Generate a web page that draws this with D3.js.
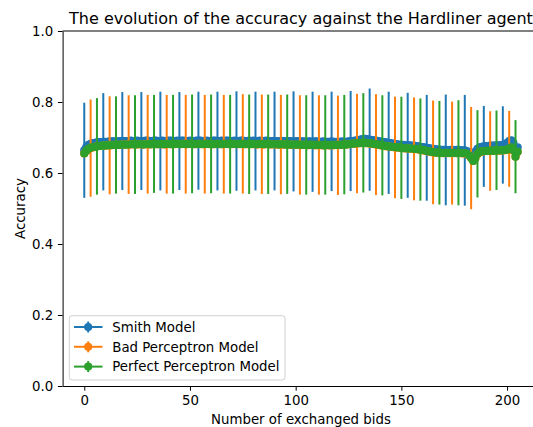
<!DOCTYPE html>
<html>
<head>
<meta charset="utf-8">
<script src="https://cdn.jsdelivr.net/npm/d3@7"></script>
<style>
  body { margin: 0; background: #fff; }
  svg { display: block; font-family: "DejaVu Sans", sans-serif; }
</style>
</head>
<body>
<svg></svg>
<script>
const WIDTH = 533;
const HEIGHT = 427;

// mean accuracy per number of exchanged bids (0..205)
const smith = [
  0.664, 0.674, 0.679, 0.682, 0.684, 0.685, 0.686, 0.687, 0.687, 0.688,
  0.688, 0.688, 0.689, 0.689, 0.689, 0.689, 0.689, 0.690, 0.690, 0.690,
  0.690, 0.690, 0.691, 0.690, 0.690, 0.691, 0.690, 0.690, 0.690, 0.691,
  0.691, 0.690, 0.690, 0.691, 0.691, 0.690, 0.690, 0.691, 0.690, 0.690,
  0.691, 0.691, 0.690, 0.690, 0.691, 0.690, 0.691, 0.691, 0.690, 0.690,
  0.691, 0.690, 0.690, 0.691, 0.691, 0.691, 0.690, 0.690, 0.691, 0.690,
  0.690, 0.691, 0.691, 0.690, 0.690, 0.691, 0.690, 0.691, 0.691, 0.690,
  0.690, 0.691, 0.690, 0.690, 0.691, 0.691, 0.690, 0.690, 0.691, 0.690,
  0.691, 0.690, 0.690, 0.691, 0.690, 0.690, 0.691, 0.690, 0.690, 0.690,
  0.690, 0.690, 0.689, 0.690, 0.690, 0.689, 0.690, 0.690, 0.689, 0.689,
  0.689, 0.690, 0.689, 0.689, 0.689, 0.688, 0.689, 0.689, 0.688, 0.689,
  0.689, 0.688, 0.688, 0.689, 0.688, 0.688, 0.688, 0.689, 0.688, 0.688,
  0.688, 0.688, 0.689, 0.688, 0.688, 0.689, 0.690, 0.690, 0.691, 0.692,
  0.693, 0.695, 0.696, 0.696, 0.695, 0.694, 0.693, 0.692, 0.691,
  0.690, 0.689, 0.688, 0.687, 0.686, 0.685, 0.684, 0.683, 0.682, 0.681, 0.680, 0.679,
  0.679, 0.678, 0.678, 0.678, 0.677, 0.677, 0.676, 0.675, 0.674, 0.673, 0.672,
  0.671, 0.670, 0.669, 0.668, 0.667, 0.666,
  0.666, 0.665, 0.665, 0.665, 0.664, 0.665, 0.665, 0.664, 0.665, 0.665, 0.664, 0.664, 0.664,
  0.662, 0.659, 0.655, 0.653, 0.660, 0.668,
  0.672, 0.674, 0.675, 0.676, 0.676, 0.677, 0.677, 0.677, 0.678, 0.678, 0.678, 0.679, 0.680,
  0.685, 0.690, 0.692, 0.685, 0.668, 0.672
];

const badPerceptron = [
  0.655, 0.662, 0.667, 0.670, 0.672, 0.674, 0.675, 0.676, 0.676, 0.677,
  0.677, 0.678, 0.678, 0.678, 0.679, 0.679, 0.679, 0.679, 0.680, 0.680,
  0.680, 0.680, 0.680, 0.681, 0.680, 0.680, 0.681, 0.680, 0.680, 0.681,
  0.681, 0.680, 0.681, 0.681, 0.681, 0.681, 0.681, 0.681, 0.680, 0.681,
  0.681, 0.681, 0.681, 0.681, 0.682, 0.681, 0.681, 0.682, 0.681, 0.681,
  0.682, 0.681, 0.681, 0.681, 0.682, 0.681, 0.681, 0.681, 0.682, 0.681,
  0.681, 0.681, 0.681, 0.682, 0.681, 0.681, 0.681, 0.682, 0.681, 0.681,
  0.681, 0.682, 0.681, 0.681, 0.681, 0.682, 0.681, 0.681, 0.681, 0.681,
  0.681, 0.681, 0.680, 0.681, 0.681, 0.680, 0.681, 0.681, 0.680, 0.681,
  0.680, 0.680, 0.680, 0.680, 0.680, 0.680, 0.680, 0.679, 0.680, 0.679,
  0.679, 0.679, 0.679, 0.679, 0.679, 0.679, 0.678, 0.679, 0.679, 0.678,
  0.678, 0.679, 0.678, 0.678, 0.678, 0.678, 0.678, 0.678, 0.678, 0.679,
  0.678, 0.679, 0.679, 0.680, 0.680, 0.681, 0.681, 0.682, 0.683, 0.683,
  0.684, 0.684, 0.685, 0.684, 0.684, 0.683, 0.682, 0.681, 0.680,
  0.679, 0.678, 0.677, 0.676, 0.675, 0.675, 0.674, 0.673, 0.672, 0.672, 0.671, 0.670,
  0.670, 0.669, 0.669, 0.668, 0.668, 0.668, 0.667, 0.666, 0.665, 0.664, 0.663,
  0.662, 0.660, 0.659, 0.658, 0.657, 0.657,
  0.656, 0.656, 0.656, 0.656, 0.656, 0.656, 0.656, 0.656, 0.656, 0.656, 0.656, 0.655, 0.655,
  0.653, 0.649, 0.642, 0.634, 0.641, 0.653,
  0.658, 0.660, 0.661, 0.662, 0.662, 0.662, 0.662, 0.663, 0.663, 0.663, 0.663, 0.664, 0.664,
  0.665, 0.668, 0.671, 0.663, 0.646, 0.659
];

const perfectPerceptron = [
  0.655, 0.663, 0.668, 0.671, 0.673, 0.674, 0.675, 0.676, 0.677, 0.677,
  0.678, 0.678, 0.678, 0.679, 0.679, 0.679, 0.679, 0.680, 0.680, 0.680,
  0.680, 0.680, 0.681, 0.681, 0.680, 0.681, 0.681, 0.681, 0.680, 0.681,
  0.681, 0.681, 0.681, 0.682, 0.681, 0.681, 0.682, 0.681, 0.681, 0.682,
  0.682, 0.681, 0.681, 0.682, 0.682, 0.681, 0.682, 0.682, 0.681, 0.682,
  0.682, 0.682, 0.681, 0.682, 0.682, 0.682, 0.681, 0.682, 0.682, 0.682,
  0.682, 0.681, 0.682, 0.682, 0.682, 0.681, 0.682, 0.682, 0.682, 0.681,
  0.682, 0.682, 0.681, 0.682, 0.682, 0.682, 0.681, 0.682, 0.681, 0.682,
  0.682, 0.681, 0.681, 0.682, 0.681, 0.681, 0.682, 0.681, 0.681, 0.681,
  0.681, 0.681, 0.680, 0.681, 0.681, 0.680, 0.681, 0.680, 0.680, 0.680,
  0.680, 0.680, 0.680, 0.679, 0.680, 0.679, 0.679, 0.680, 0.679, 0.679,
  0.679, 0.679, 0.679, 0.678, 0.679, 0.679, 0.678, 0.679, 0.679, 0.679,
  0.679, 0.679, 0.680, 0.680, 0.680, 0.681, 0.682, 0.683, 0.683, 0.684,
  0.684, 0.685, 0.685, 0.685, 0.684, 0.684, 0.683, 0.682, 0.681,
  0.680, 0.679, 0.678, 0.677, 0.676, 0.675, 0.674, 0.674, 0.673, 0.672, 0.672, 0.671,
  0.670, 0.670, 0.669, 0.669, 0.669, 0.668, 0.668, 0.667, 0.666, 0.665, 0.664,
  0.662, 0.661, 0.660, 0.659, 0.658, 0.657,
  0.657, 0.657, 0.656, 0.657, 0.657, 0.656, 0.657, 0.657, 0.656, 0.657, 0.657, 0.656, 0.656,
  0.654, 0.650, 0.642, 0.634, 0.642, 0.654,
  0.659, 0.661, 0.662, 0.662, 0.663, 0.663, 0.663, 0.663, 0.664, 0.664, 0.664, 0.664, 0.665,
  0.666, 0.669, 0.672, 0.664, 0.646, 0.660
];

// error bars are drawn every 9 bids, each model shifted by 3
const errEvery = 9;
const errOffsets = [0, 3, 6];
const smithErr = [0.134, 0.137, 0.138, 0.138, 0.139, 0.138, 0.138, 0.139, 0.140, 0.139, 0.139, 0.141,
  0.141, 0.140, 0.141, 0.144, 0.144, 0.148, 0.149, 0.156, 0.156, 0.114, 0.109];
const badErr = [0.137, 0.138, 0.139, 0.139, 0.139, 0.139, 0.139, 0.139, 0.140, 0.140, 0.140, 0.140,
  0.140, 0.140, 0.140, 0.142, 0.143, 0.145, 0.146, 0.145, 0.144, 0.112, 0.107];
const perfectErr = [0.136, 0.137, 0.139, 0.138, 0.139, 0.139, 0.139, 0.139, 0.140, 0.140, 0.140, 0.140,
  0.140, 0.140, 0.140, 0.141, 0.144, 0.144, 0.146, 0.148, 0.123, 0.112, 0.103];

const names = ["Smith Model", "Bad Perceptron Model", "Perfect Perceptron Model"];
const colors = ["#1f77b4", "#ff7f0e", "#2ca02c"];
const xTicks = [0, 50, 100, 150, 200];
const yTicks = [0, 0.2, 0.4, 0.6, 0.8, 1.0];

const series = [smith, badPerceptron, perfectPerceptron];
const errs = [smithErr, badErr, perfectErr];

const plotL = 62.6, plotR = 539.3, plotT = 31, plotB = 386;
const tickFont = 13.33;
const tickLen = 4.67;

var svg = d3.select("svg").attr("width", WIDTH).attr("height", HEIGHT);

var x = d3.scaleLinear().domain([-10.25, 215.25]).range([plotL, plotR]);
var y = d3.scaleLinear().domain([0, 1]).range([plotB, plotT]);

// series: bars first, then line + markers
var line = d3.line().x((d, i) => x(i)).y((d) => y(d));

series.forEach((vals, s) => {
  var g = svg.append("g");
  var bars = errs[s].map((e, k) => {
    var i = errOffsets[s] + k * errEvery;
    return { i: i, m: vals[i], e: e };
  });
  g.selectAll("line.bar")
    .data(bars)
    .enter()
    .append("line")
    .attr("class", "bar")
    .attr("x1", (d) => x(d.i))
    .attr("x2", (d) => x(d.i))
    .attr("y1", (d) => y(d.m - d.e))
    .attr("y2", (d) => y(d.m + d.e))
    .attr("stroke", colors[s])
    .attr("stroke-width", 2);

  g.append("path")
    .attr("d", line(vals))
    .attr("fill", "none")
    .attr("stroke", colors[s])
    .attr("stroke-width", 2);

  g.selectAll("circle")
    .data(vals)
    .enter()
    .append("circle")
    .attr("cx", (d, i) => x(i))
    .attr("cy", (d) => y(d))
    .attr("r", 3.5)
    .attr("fill", colors[s])
    .attr("stroke", colors[s])
    .attr("stroke-width", 1.2);
});

// axes
var xAxis = svg.append("g")
  .attr("transform", "translate(0," + plotB + ")")
  .call(d3.axisBottom(x).tickValues(xTicks).tickSize(tickLen).tickPadding(tickLen).tickSizeOuter(0));
var yAxis = svg.append("g")
  .attr("transform", "translate(" + plotL + ",0)")
  .call(d3.axisLeft(y).tickValues(yTicks).tickFormat(d3.format(".1f")).tickSize(tickLen).tickPadding(tickLen).tickSizeOuter(0));

[xAxis, yAxis].forEach((a) => {
  a.selectAll("text").attr("font-size", tickFont).attr("font-family", "DejaVu Sans").attr("fill", "#000");
  a.selectAll("line").attr("stroke", "#000").attr("stroke-width", 1);
  a.select(".domain").attr("stroke", "#000").attr("stroke-width", 1);
});

svg.append("line")
  .attr("x1", plotL).attr("x2", plotR)
  .attr("y1", plotT).attr("y2", plotT)
  .attr("stroke", "#000").attr("stroke-width", 1);
svg.append("line")
  .attr("x1", plotR).attr("x2", plotR)
  .attr("y1", plotT).attr("y2", plotB)
  .attr("stroke", "#000").attr("stroke-width", 1);

// labels
svg.append("text")
  .attr("x", (plotL + plotR) / 2)
  .attr("y", 23.5)
  .attr("text-anchor", "middle")
  .attr("font-size", 16)
  .text("The evolution of the accuracy against the Hardliner agent");

svg.append("text")
  .attr("x", (plotL + plotR) / 2)
  .attr("y", 423.5)
  .attr("text-anchor", "middle")
  .attr("font-size", tickFont)
  .text("Number of exchanged bids");

svg.append("text")
  .attr("transform", "translate(24.5,208.5) rotate(-90)")
  .attr("text-anchor", "middle")
  .attr("font-size", tickFont)
  .text("Accuracy");

// legend
var legend = svg.append("g");
legend.append("rect")
  .attr("x", 69.3).attr("y", 315.7)
  .attr("width", 215.7).attr("height", 64.3)
  .attr("rx", 2.7)
  .attr("fill", "#fff").attr("fill-opacity", 0.8)
  .attr("stroke", "#d0d0d0").attr("stroke-width", 1);

var items = legend.selectAll("g.item")
  .data(names)
  .enter()
  .append("g")
  .attr("class", "item")
  .attr("transform", (d, i) => "translate(0," + (327 + i * 19.8) + ")");

items.append("line")
  .attr("x1", 74).attr("x2", 102.5)
  .attr("y1", 0).attr("y2", 0)
  .attr("stroke", (d, i) => colors[i]).attr("stroke-width", 2);
items.append("line")
  .attr("x1", 88.2).attr("x2", 88.2)
  .attr("y1", -5.5).attr("y2", 5.5)
  .attr("stroke", (d, i) => colors[i]).attr("stroke-width", 2);
items.append("circle")
  .attr("cx", 88.2).attr("cy", 0).attr("r", 3.5)
  .attr("fill", (d, i) => colors[i])
  .attr("stroke", (d, i) => colors[i]).attr("stroke-width", 1.2);
items.append("text")
  .attr("x", 112.3).attr("y", 4.8)
  .attr("font-size", tickFont)
  .text((d) => d);
</script>
</body>
</html>
